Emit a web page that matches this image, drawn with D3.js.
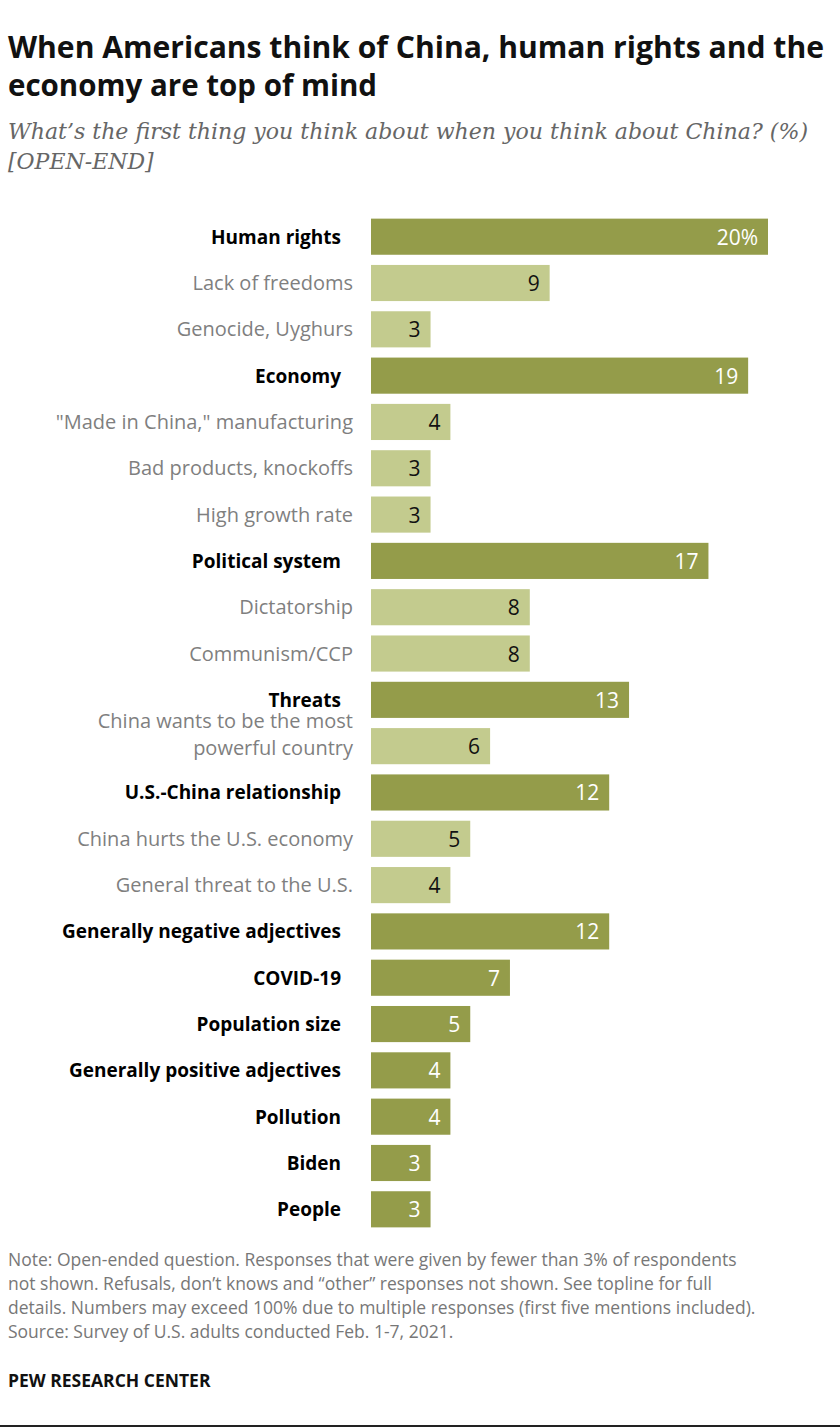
<!DOCTYPE html>
<html><head><meta charset="utf-8">
<script src="https://cdn.jsdelivr.net/npm/d3@7"></script>
<style>
body{margin:0;background:#fff;font-family:"Open Sans",Roboto,sans-serif;}
</style></head><body>
<svg id="chart" width="840" height="1428"></svg>
<script>
// chart data
const categories = ["Human rights","Lack of freedoms","Genocide, Uyghurs","Economy","\"Made in China,\" manufacturing",
  "Bad products, knockoffs","High growth rate","Political system","Dictatorship","Communism/CCP","Threats",
  "China wants to be the most|powerful country","U.S.-China relationship","China hurts the U.S. economy",
  "General threat to the U.S.","Generally negative adjectives","COVID-19","Population size",
  "Generally positive adjectives","Pollution","Biden","People"];
const values = [20,9,3,19,4,3,3,17,8,8,13,6,12,5,4,12,7,5,4,4,3,3];
const isMain = [1,0,0,1,0,0,0,1,0,0,1,0,1,0,0,1,1,1,1,1,1,1];

const svg = d3.select("#chart");
const x = d3.scaleLinear().domain([0, 20]).range([371, 768]);
const y = d3.scaleBand().domain(d3.range(categories.length)).range([214, 1232]).paddingInner(0.22).paddingOuter(0.1);

// titles
svg.append("text").attr("x", 8).attr("y", 58).attr("font-size", 29.5).attr("font-weight", 700).attr("fill", "#111")
  .attr("textLength", 816).attr("lengthAdjust", "spacingAndGlyphs")
  .text("When Americans think of China, human rights and the");
svg.append("text").attr("x", 8).attr("y", 96).attr("font-size", 29.5).attr("font-weight", 700).attr("fill", "#111")
  .text("economy are top of mind");
svg.append("text").attr("x", 8).attr("y", 139).attr("font-size", 22).attr("font-style", "italic").attr("fill", "#666")
  .attr("font-family", "Georgia,'DejaVu Serif',serif")
  .attr("textLength", 800).attr("lengthAdjust", "spacingAndGlyphs")
  .text("What\u2019s the first thing you think about when you think about China? (%)");
svg.append("text").attr("x", 8).attr("y", 169).attr("font-size", 22).attr("font-style", "italic").attr("fill", "#666")
  .attr("font-family", "Georgia,'DejaVu Serif',serif").text("[OPEN-END]");

const rows = svg.selectAll("g.row").data(values).enter().append("g");

rows.append("rect")
  .attr("x", x(0))
  .attr("y", (d, i) => y(i))
  .attr("width", d => x(d) - x(0))
  .attr("height", y.bandwidth())
  .attr("fill", (d, i) => isMain[i] ? "#949c4a" : "#c3cb8e");

rows.append("text")
  .attr("x", d => x(d) - 10)
  .attr("y", (d, i) => y(i) + y.bandwidth() / 2 + 8)
  .attr("text-anchor", "end")
  .attr("font-size", 21)
  .attr("fill", (d, i) => isMain[i] ? "#fff" : "#111")
  .text((d, i) => i === 0 ? d + "%" : d);

rows.each(function(d, i) {
  const lines = categories[i].split("|");
  const lx = isMain[i] ? 341 : 353;
  const t = d3.select(this).append("text")
    .attr("text-anchor", "end")
    .attr("font-size", isMain[i] ? 19 : 20)
    .attr("font-weight", isMain[i] ? 700 : 400)
    .attr("fill", isMain[i] ? "#000" : "#7f7f7f");
  const cy = y(i) + y.bandwidth() / 2 + 7;
  lines.forEach((l, k) => {
    t.append("tspan").attr("x", lx)
      .attr("y", cy + (k - (lines.length - 1) / 2) * 27 - (lines.length > 1 ? 12 : 0)).text(l);
  });
});

const notes = ["Note: Open-ended question. Responses that were given by fewer than 3% of respondents",
  "not shown. Refusals, don\u2019t knows and \u201cother\u201d responses not shown. See topline for full",
  "details. Numbers may exceed 100% due to multiple responses (first five mentions included).",
  "Source: Survey of U.S. adults conducted Feb. 1-7, 2021."];
notes.forEach((n, k) => svg.append("text").attr("x", 8).attr("y", 1266 + k * 24)
  .attr("font-size", 17.5).attr("fill", "#777").text(n));
svg.append("text").attr("x", 8).attr("y", 1387).attr("font-size", 17.5).attr("font-weight", 700)
  .attr("fill", "#111").text("PEW RESEARCH CENTER");
svg.append("line").attr("x1", 0).attr("x2", 840).attr("y1", 1426).attr("y2", 1426).attr("stroke", "#222").attr("stroke-width", 2);
</script>
</body></html>
